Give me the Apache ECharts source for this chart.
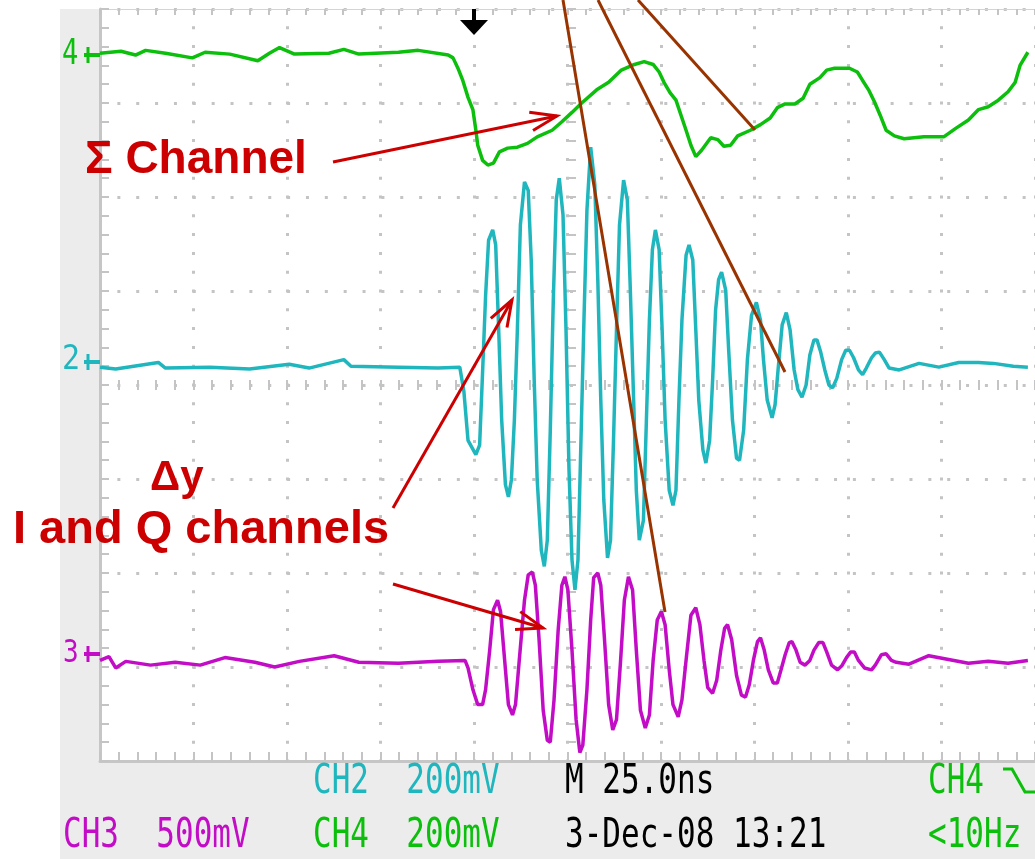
<!DOCTYPE html>
<html>
<head>
<meta charset="utf-8">
<script src="https://cdn.jsdelivr.net/npm/echarts@6/dist/echarts.min.js"></script>
<style>
  html, body { margin: 0; padding: 0; background: #fff; }
  #main { width: 1035px; height: 859px; }
</style>
</head>
<body>
<div id="main"></div>
<script>
// time in ns (25 ns / div), amplitude in screen divisions from centre
var timeMin = 0, timeMax = 250, timeStep = 25
var divMin = -4, divMax = 4, divStep = 1

// CH4 - sum channel
var ch4Trace = [
  [0, 3.53], [5.6, 3.55], [9.5, 3.51], [12.2, 3.56], [17.5, 3.53], [24.7, 3.48], [28.1, 3.54],
  [34.7, 3.52], [42.2, 3.45], [45.3, 3.53], [48.0, 3.59], [52.0, 3.52], [61.2, 3.53], [65.2, 3.57],
  [69.2, 3.52], [79.8, 3.54], [85.1, 3.56], [93.1, 3.51], [94.4, 3.48], [95.7, 3.37], [97.0, 3.24],
  [98.4, 3.06], [99.7, 2.93], [100.5, 2.71], [101.0, 2.55], [102.3, 2.39], [103.7, 2.34], [105.2, 2.36],
  [106.8, 2.48], [109.0, 2.52], [111.6, 2.53], [114.3, 2.57], [116.9, 2.64], [120.9, 2.71], [123.5, 2.80],
  [126.2, 2.90], [128.8, 3.00], [132.8, 3.14], [136.0, 3.22], [139.4, 3.35], [142.9, 3.41], [145.5, 3.44],
  [147.9, 3.41], [149.5, 3.33], [150.8, 3.22], [152.4, 3.11], [154.0, 3.03], [155.6, 2.84], [156.7, 2.71],
  [158.0, 2.55], [159.3, 2.43], [160.9, 2.50], [163.3, 2.63], [165.2, 2.61], [166.8, 2.54], [168.6, 2.55],
  [170.5, 2.65], [173.9, 2.71], [176.6, 2.77], [179.2, 2.84], [181.1, 2.95], [183.2, 2.99], [185.8, 2.99],
  [188.0, 3.05], [189.8, 3.20], [192.5, 3.27], [194.3, 3.35], [196.4, 3.37], [200.4, 3.37], [202.5, 3.33],
  [203.9, 3.24], [205.5, 3.14], [207.1, 3.01], [208.6, 2.87], [210.2, 2.71], [212.4, 2.65], [215.0, 2.62],
  [220.3, 2.64], [225.6, 2.64], [228.8, 2.73], [232.2, 2.82], [234.9, 2.93], [237.5, 2.96], [240.2, 3.03],
  [242.8, 3.12], [244.7, 3.22], [246.0, 3.40], [248.1, 3.54]
]

// CH2 - delta y, I channel
var ch2Trace = [
  [0, 0.19], [4.2, 0.17], [15.6, 0.24], [17.5, 0.18], [29.4, 0.19], [40.0, 0.17], [50.6, 0.22],
  [55.9, 0.18], [65.2, 0.27], [67.1, 0.20], [79.8, 0.19], [90.4, 0.18], [96.2, 0.19], [97.3, -0.07],
  [98.4, -0.59], [100.5, -0.74], [101.5, -0.64], [102.3, 0.14], [103.1, 0.95], [103.9, 1.54],
  [105.0, 1.65], [105.8, 1.49], [106.6, 0.59], [107.4, -0.37], [108.4, -1.06], [109.2, -1.19],
  [110.0, -1.01], [110.8, -0.37], [111.6, 0.59], [112.4, 1.70], [113.5, 2.16], [114.5, 2.07],
  [115.3, 1.33], [116.1, 0.05], [116.9, -1.01], [118.0, -1.76], [118.8, -1.93], [119.6, -1.65],
  [120.4, -0.48], [121.2, 0.90], [122.0, 1.97], [122.8, 2.20], [123.8, 1.81], [124.6, 0.59],
  [125.4, -0.90], [126.2, -1.86], [127.0, -2.18], [127.8, -1.86], [128.6, -0.59], [129.4, 0.69],
  [130.2, 1.86], [131.2, 2.53], [132.3, 2.13], [133.1, 1.12], [133.9, -0.16], [134.7, -1.22],
  [135.7, -1.84], [136.5, -1.65], [137.3, -0.59], [138.1, 0.59], [138.9, 1.70], [140.0, 2.18],
  [141.0, 1.97], [141.8, 1.01], [142.6, -0.05], [143.4, -1.12], [144.2, -1.65], [145.3, -1.44],
  [146.1, -0.37], [146.9, 0.69], [147.7, 1.44], [148.5, 1.65], [149.5, 1.44], [150.3, 0.59],
  [151.1, -0.37], [152.2, -1.12], [153.2, -1.28], [154.0, -1.12], [154.8, -0.16], [155.6, 0.69],
  [156.7, 1.38], [157.5, 1.49], [158.5, 1.33], [159.3, 0.59], [160.1, -0.16], [161.2, -0.69],
  [162.0, -0.83], [163.0, -0.59], [163.8, 0.05], [164.6, 0.80], [165.4, 1.12], [166.2, 1.20],
  [167.3, 1.01], [168.1, 0.37], [169.1, -0.37], [170.2, -0.78], [171.0, -0.80], [172.1, -0.48],
  [173.1, 0.27], [174.2, 0.74], [175.5, 0.88], [176.6, 0.69], [177.4, 0.27], [178.4, -0.16],
  [179.7, -0.35], [180.5, -0.21], [181.3, 0.16], [182.4, 0.64], [183.5, 0.77], [184.5, 0.59],
  [185.6, 0.16], [186.6, -0.05], [187.7, -0.13], [188.8, 0.00], [189.8, 0.32], [190.9, 0.48],
  [191.7, 0.48], [192.7, 0.35], [193.8, 0.16], [194.9, 0.00], [195.9, -0.03], [197.0, 0.07],
  [198.3, 0.27], [199.4, 0.37], [200.4, 0.37], [201.5, 0.29], [202.8, 0.16], [203.9, 0.11],
  [204.9, 0.18], [206.3, 0.29], [207.3, 0.34], [208.4, 0.35], [209.7, 0.27], [211.0, 0.18],
  [213.7, 0.16], [219.0, 0.23], [224.3, 0.19], [229.6, 0.24], [234.9, 0.24], [238.9, 0.23],
  [244.2, 0.20], [248.1, 0.19]
]

// CH3 - delta y, Q channel
var ch3Trace = [
  [0, -2.93], [2.4, -2.89], [4.2, -3.01], [6.9, -2.94], [13.5, -2.98], [20.1, -2.95], [26.8, -2.98],
  [33.4, -2.90], [41.4, -2.95], [46.7, -3.00], [53.3, -2.94], [62.6, -2.88], [69.2, -2.95], [79.8, -2.96],
  [90.4, -2.94], [97.6, -2.93], [98.4, -3.01], [99.7, -3.24], [101.0, -3.40], [102.3, -3.40],
  [103.1, -3.24], [104.2, -2.82], [105.2, -2.39], [106.3, -2.29], [107.1, -2.41], [108.2, -2.93],
  [109.2, -3.40], [110.3, -3.51], [111.1, -3.40], [112.1, -2.93], [113.5, -2.29], [114.5, -2.02],
  [115.6, -1.99], [116.4, -2.13], [117.4, -2.71], [118.5, -3.46], [119.6, -3.78], [120.4, -3.80],
  [121.4, -3.35], [122.5, -2.61], [123.5, -2.13], [124.3, -2.04], [125.1, -2.18], [126.2, -2.82],
  [127.3, -3.56], [128.3, -3.91], [129.1, -3.83], [130.2, -3.24], [131.2, -2.50], [132.0, -2.05],
  [133.1, -2.00], [133.9, -2.13], [134.9, -2.71], [136.0, -3.40], [137.1, -3.67], [138.1, -3.56],
  [139.2, -2.93], [140.2, -2.29], [141.3, -2.04], [142.4, -2.18], [143.4, -2.82], [144.5, -3.46],
  [145.8, -3.65], [146.9, -3.51], [147.9, -2.93], [149.0, -2.50], [150.1, -2.41], [151.1, -2.55],
  [152.2, -3.03], [153.2, -3.40], [154.6, -3.53], [155.6, -3.35], [156.7, -2.93], [158.0, -2.45],
  [159.3, -2.37], [160.4, -2.55], [161.5, -2.93], [162.5, -3.22], [163.8, -3.28], [164.9, -3.14],
  [166.0, -2.82], [167.0, -2.59], [167.8, -2.55], [168.9, -2.71], [170.2, -3.09], [171.5, -3.30],
  [172.6, -3.32], [173.6, -3.19], [174.7, -2.93], [175.8, -2.73], [176.6, -2.69], [177.6, -2.82],
  [178.7, -3.03], [180.0, -3.17], [181.1, -3.17], [182.1, -3.03], [183.2, -2.87], [184.3, -2.74],
  [185.0, -2.73], [186.1, -2.82], [187.2, -2.95], [188.5, -2.98], [189.8, -2.93], [190.9, -2.82],
  [192.2, -2.74], [193.3, -2.74], [194.3, -2.84], [195.6, -2.98], [197.2, -3.03], [198.3, -2.99],
  [199.6, -2.90], [200.7, -2.84], [201.7, -2.84], [202.8, -2.93], [204.4, -3.01], [206.3, -3.03],
  [207.3, -2.98], [208.9, -2.87], [210.2, -2.86], [211.6, -2.93], [212.9, -2.95], [216.3, -2.97],
  [221.6, -2.88], [226.9, -2.92], [232.2, -2.96], [237.5, -2.94], [242.8, -2.96], [248.1, -2.93]
]

var readoutTop = ['CH2  200mV', 'M 25.0ns', 'CH4']
var readoutBottom = ['CH3  500mV', 'CH4  200mV', '3-Dec-08 13:21', '<10Hz']

var cyan = '#1fb6be', green = '#0cbf0c', magenta = '#c20cc6'
var red = '#cc0000', brown = '#993300', grid = '#c4c4c4'

var chart = echarts.init(document.getElementById('main'))

function baseAxis(extra) {
  var ax = {
    type: 'value', min: timeMin, max: timeMax, interval: timeStep,
    axisLabel: { show: false },
    axisLine: { show: false, onZero: false },
    axisTick: { show: false },
    splitLine: { show: false }
  }
  return Object.assign(ax, extra)
}

function arrow(x1, y1, x2, y2) {
  var a = Math.atan2(y2 - y1, x2 - x1), len = 28, w = 0.34
  return [
    { type: 'line', z: 20, shape: { x1: x1, y1: y1, x2: x2, y2: y2 }, style: { stroke: red, lineWidth: 3 } },
    { type: 'polyline', z: 20, shape: { points: [
      [x2 - len * Math.cos(a - w), y2 - len * Math.sin(a - w)], [x2, y2],
      [x2 - len * Math.cos(a + w), y2 - len * Math.sin(a + w)]] },
      style: { stroke: red, lineWidth: 3, fill: null } }
  ]
}

function pixText(text, x, y, color, size, sy) {
  return { type: 'text', z: 20, x: x, y: y, scaleY: sy || 1.33,
    style: { text: text, x: 0, y: 0, fill: color, font: (size || 31) + 'px "DejaVu Sans Mono"', verticalAlign: 'middle' } }
}

function marker(x, y, color) {
  return [
    { type: 'line', z: 20, shape: { x1: x, y1: y - 8, x2: x, y2: y + 8 }, style: { stroke: color, lineWidth: 3 } },
    { type: 'line', z: 20, shape: { x1: x - 4, y1: y, x2: x + 12, y2: y }, style: { stroke: color, lineWidth: 4 } }
  ]
}

function boldText(text, x, y, size) {
  return { type: 'text', z: 20, x: x, y: y,
    style: { text: text, x: 0, y: 0, fill: red, font: 'bold ' + size + 'px "Liberation Sans"', verticalAlign: 'middle' } }
}

var graphics = [
  { type: 'rect', z: -1, shape: { x: 60, y: 9, width: 39, height: 760 }, style: { fill: '#ececec' } },
  { type: 'rect', z: -1, shape: { x: 60, y: 762, width: 975, height: 97 }, style: { fill: '#ececec' } },
  // trigger position marker
  { type: 'rect', z: 20, shape: { x: 472, y: 9, width: 4, height: 12 }, style: { fill: '#000' } },
  { type: 'polygon', z: 20, shape: { points: [[460, 20], [488, 20], [474, 35]] }, style: { fill: '#000' } },
  pixText('4', 62, 55, green, 27, 1.3),
  pixText('2', 62, 360, cyan, 30, 1.1),
  pixText('3', 63, 654, magenta, 26, 1.2),
  pixText(readoutTop[0], 313, 782, cyan),
  pixText(readoutTop[1], 565, 782, '#000'),
  pixText(readoutTop[2], 928, 782, green),
  { type: 'polyline', z: 20, shape: { points: [[1003, 769], [1012, 769], [1025, 792], [1036, 792]] },
    style: { stroke: green, lineWidth: 3, fill: null } },
  pixText(readoutBottom[0], 63, 836, magenta),
  pixText(readoutBottom[1], 313, 836, green),
  pixText(readoutBottom[2], 565, 836, '#000'),
  pixText(readoutBottom[3], 928, 836, green),
  boldText('\u03a3 Channel', 85, 160, 46),
  boldText('\u0394y', 150, 478, 42),
  boldText('I and Q channels', 13, 530, 47),
  { type: 'line', z: 21, shape: { x1: 563, y1: 0, x2: 665, y2: 612 }, style: { stroke: brown, lineWidth: 3 } },
  { type: 'line', z: 21, shape: { x1: 598, y1: 0, x2: 785, y2: 372 }, style: { stroke: brown, lineWidth: 3 } },
  { type: 'line', z: 21, shape: { x1: 638, y1: 0, x2: 755, y2: 130 }, style: { stroke: brown, lineWidth: 3 } }
]
graphics = graphics
  .concat(marker(88, 55, green), marker(88, 362, cyan), marker(88, 654, magenta))
  .concat(arrow(333, 162, 557, 116), arrow(393, 508, 512, 300), arrow(393, 584, 543, 628))

var option = {
  animation: false,
  backgroundColor: '#fff',
  grid: { left: 100, top: 9, right: -8, bottom: 98 },
  xAxis: [
    baseAxis({ position: 'bottom',
      axisLine: { show: true, onZero: false, lineStyle: { color: '#c6c6c6', width: 3 } },
      axisTick: { show: true, inside: true, length: 9, lineStyle: { color: grid, width: 2 } },
      minorTick: { show: true, splitNumber: 5, length: 9, lineStyle: { color: grid, width: 2 } },
      splitLine: { show: true, lineStyle: { color: grid, width: 3, type: [3, 15.8], dashOffset: 1.5 } } }),
    baseAxis({ position: 'top',
      axisLine: { show: true, onZero: false, lineStyle: { color: '#d4d4d4', width: 1 } },
      axisTick: { show: true, inside: true, length: 6, lineStyle: { color: grid, width: 2 } },
      minorTick: { show: true, splitNumber: 5, length: 6, lineStyle: { color: grid, width: 2 } } }),
    baseAxis({ position: 'bottom', offset: -381,
      axisTick: { show: true, inside: false, length: 10, lineStyle: { color: grid, width: 2 } },
      minorTick: { show: true, splitNumber: 5, length: 10, lineStyle: { color: grid, width: 2 } } })
  ],
  yAxis: [
    baseAxis({ min: divMin, max: divMax, interval: divStep, position: 'left',
      axisLine: { show: true, onZero: false, lineStyle: { color: '#c6c6c6', width: 3 } },
      axisTick: { show: true, inside: true, length: 9, lineStyle: { color: grid, width: 2 } },
      minorTick: { show: true, splitNumber: 5, length: 9, lineStyle: { color: grid, width: 2 } },
      splitLine: { show: true, lineStyle: { color: grid, width: 3, type: [3, 15.86], dashOffset: 1.5 } } }),
    baseAxis({ min: divMin, max: divMax, interval: divStep, position: 'left', offset: -476,
      axisTick: { show: true, inside: false, length: 9, lineStyle: { color: grid, width: 2 } },
      minorTick: { show: true, splitNumber: 5, length: 9, lineStyle: { color: grid, width: 2 } } })
  ],
  series: [
    { name: 'CH4', type: 'line', data: ch4Trace, showSymbol: false, lineStyle: { color: green, width: 3.5 } },
    { name: 'CH2', type: 'line', data: ch2Trace, showSymbol: false, lineStyle: { color: cyan, width: 3.5 } },
    { name: 'CH3', type: 'line', data: ch3Trace, showSymbol: false, lineStyle: { color: magenta, width: 3.5 } }
  ],
  graphic: { elements: graphics }
}
chart.setOption(option)
</script>
</body>
</html>
